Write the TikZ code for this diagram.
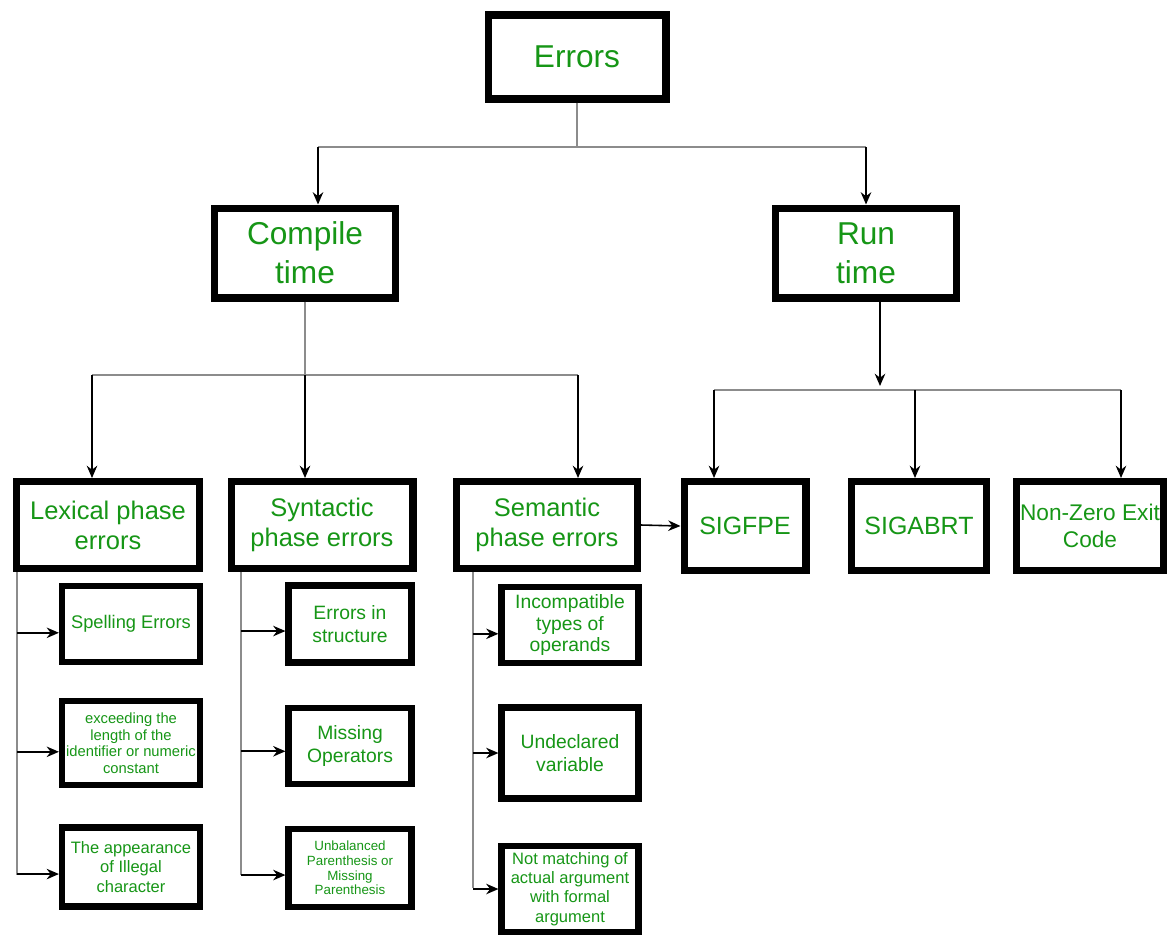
\documentclass[tikz,border=0pt]{standalone}
\usepackage{fontspec}
\setmainfont{Liberation Sans}
\usepackage{xcolor}
\usetikzlibrary{arrows.meta}
\definecolor{txtgreen}{RGB}{22,150,22}
\tikzset{
  box/.style={draw=black, line width=4pt, fill=white, align=center, inner sep=0pt, text=txtgreen},
  sbox/.style={box, line width=3.5pt},
  gline/.style={draw=black!45, line width=1pt},
  arr/.style={draw=black, line width=0.9pt, -{Stealth[length=7pt,width=6pt]}}
}
\begin{document}
\begin{tikzpicture}[x=0.02cm, y=-0.02cm]
    \useasboundingbox (0, 0) rectangle (1172, 937);
    \node[box, minimum width=3.56cm, minimum height=1.68cm, font=\fontsize{18}{22}\selectfont](err) at (577, 57) {Errors};
    \node[box, minimum width=3.62cm, minimum height=1.80cm, font=\fontsize{18}{22}\selectfont](ct) at (305, 253) {Compile\\time};
    \node[box, minimum width=3.62cm, minimum height=1.80cm, font=\fontsize{18}{22}\selectfont](rt) at (866, 253) {Run\\time};
    \node[box, minimum width=3.68cm, minimum height=1.74cm, font=\fontsize{14.5}{17}\selectfont](lex) at (108, 525) {Lexical phase\\errors};
    \node[box, minimum width=3.64cm, minimum height=1.74cm, font=\fontsize{14.5}{17}\selectfont](syn) at (322, 525) {Syntactic\\phase errors};
    \node[box, minimum width=3.62cm, minimum height=1.74cm, font=\fontsize{14.5}{17}\selectfont](sem) at (547, 525) {Semantic\\phase errors};
    \node[box, minimum width=2.44cm, minimum height=1.78cm, font=\fontsize{14.2}{17}\selectfont](fpe) at (745, 526) {SIGFPE};
    \node[box, minimum width=2.70cm, minimum height=1.78cm, font=\fontsize{14.2}{17}\selectfont](abrt) at (919, 526) {SIGABRT};
    \node[box, minimum width=2.94cm, minimum height=1.78cm, font=\fontsize{12.9}{15}\selectfont](nz) at (1090, 526) {Non-Zero Exit\\Code};
    \node[sbox, minimum width=2.76cm, minimum height=1.52cm, font=\fontsize{10.4}{12.5}\selectfont](spell) at (131, 624) {Spelling Errors};
    \node[sbox, minimum width=2.76cm, minimum height=1.68cm, font=\fontsize{8.4}{9.4}\selectfont](exc) at (131, 743) {exceeding the\\length of the\\identifier or numeric\\constant};
    \node[sbox, minimum width=2.76cm, minimum height=1.58cm, font=\fontsize{9.4}{11}\selectfont](app) at (131, 867) {The appearance\\of Illegal\\character};
    \node[sbox, minimum width=2.46cm, minimum height=1.54cm, font=\fontsize{11}{13}\selectfont](eis) at (350, 624) {Errors in\\structure};
    \node[sbox, minimum width=2.46cm, minimum height=1.52cm, font=\fontsize{11}{13}\selectfont](mop) at (350, 746) {Missing\\Operators};
    \node[sbox, minimum width=2.46cm, minimum height=1.56cm, font=\fontsize{7.6}{8.3}\selectfont](unb) at (350, 868) {Unbalanced\\Parenthesis or\\Missing\\Parenthesis};
    \node[sbox, minimum width=2.74cm, minimum height=1.52cm, font=\fontsize{11}{12.5}\selectfont](inc) at (570, 625) {Incompatible\\types of\\operands};
    \node[sbox, minimum width=2.74cm, minimum height=1.82cm, font=\fontsize{11}{13}\selectfont](und) at (570, 753) {Undeclared\\variable};
    \node[sbox, minimum width=2.74cm, minimum height=1.72cm, font=\fontsize{9.4}{11}\selectfont](nm) at (570, 889) {Not matching of\\actual argument\\with formal\\argument};
    \coordinate(j1) at (577, 147);
    \coordinate(j1l) at (318, 147);
    \coordinate(j1r) at (866, 147);
    \coordinate(j2) at (305, 375);
    \coordinate(j2l) at (92, 375);
    \coordinate(j2r) at (578, 375);
    \coordinate(j3) at (880, 386);
    \coordinate(j3l) at (714, 390);
    \coordinate(j3m) at (915, 390);
    \coordinate(j3r) at (1121, 390);
    \coordinate(t1) at (17, 875);
    \coordinate(t2) at (241, 875);
    \coordinate(t3) at (473, 888);
    \draw[gline] (err) -- (j1);
    \draw[gline] (j1l) -- (j1r);
    \draw[arr] (j1l) -- (j1l |- ct.north);
    \draw[arr] (j1r) -- (j1r |- rt.north);
    \draw[gline] (ct) -- (j2);
    \draw[gline] (j2l) -- (j2r);
    \draw[arr] (j2l) -- (j2l |- lex.north);
    \draw[arr] (j2) -- (j2 |- syn.north);
    \draw[arr] (j2r) -- (j2r |- sem.north);
    \draw[arr] (rt.south -| j3) -- (j3);
    \draw[gline] (j3l) -- (j3r);
    \draw[arr] (j3l) -- (j3l |- fpe.north);
    \draw[arr] (j3m) -- (j3m |- abrt.north);
    \draw[arr] (j3r) -- (j3r |- nz.north);
    \draw[arr] (sem.east) -- (fpe.west);
    \draw[gline] (t1 |- lex.south) -- (t1);
    \draw[arr] ([yshift=-5pt]spell.west -| t1) -- ([yshift=-5pt]spell.west);
    \draw[arr] ([yshift=-5pt]exc.west -| t1) -- ([yshift=-5pt]exc.west);
    \draw[arr] ([yshift=-4pt]app.west -| t1) -- ([yshift=-4pt]app.west);
    \draw[gline] (t2 |- syn.south) -- (t2);
    \draw[arr] ([yshift=-4pt]eis.west -| t2) -- ([yshift=-4pt]eis.west);
    \draw[arr] ([yshift=-3pt]mop.west -| t2) -- ([yshift=-3pt]mop.west);
    \draw[arr] ([yshift=-4pt]unb.west -| t2) -- ([yshift=-4pt]unb.west);
    \draw[gline] (t3 |- sem.south) -- (t3);
    \draw[arr] ([yshift=-5pt]inc.west -| t3) -- ([yshift=-5pt]inc.west);
    \draw[arr] (und.west -| t3) -- (und.west);
    \draw[arr] (nm.west -| t3) -- (nm.west);
\end{tikzpicture}
\end{document}
